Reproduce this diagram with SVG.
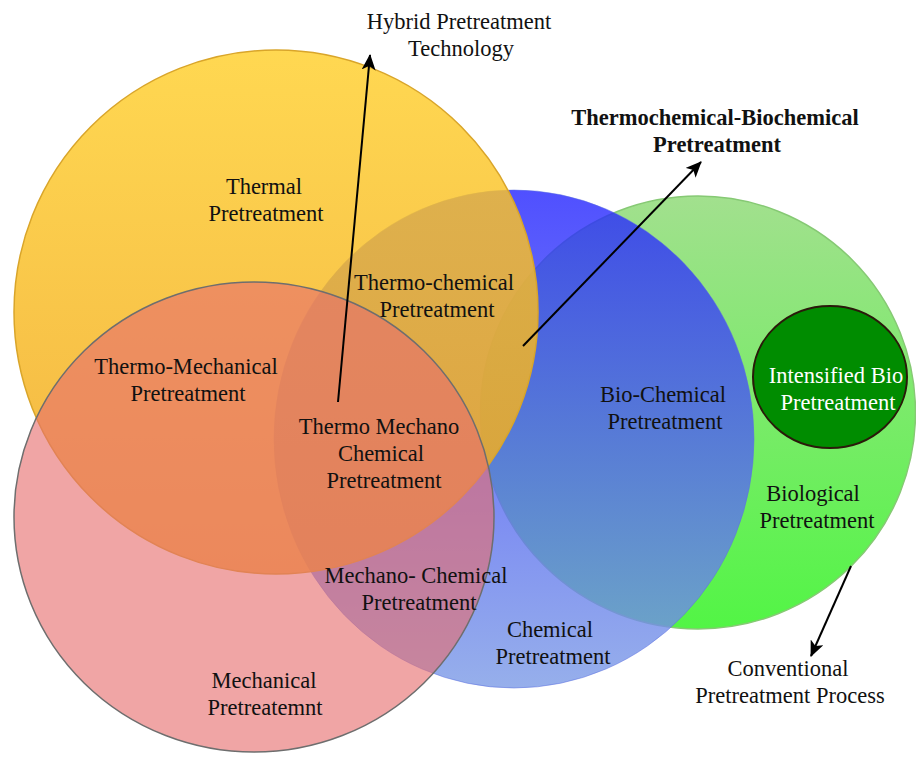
<svg xmlns="http://www.w3.org/2000/svg" width="916" height="765" viewBox="0 0 916 765">
<defs>
<linearGradient id="gGreen" x1="0" y1="0" x2="0" y2="1">
<stop offset="0" stop-color="#a2e08e"/>
<stop offset="1" stop-color="#52f545"/>
</linearGradient>
<linearGradient id="gBlue" x1="0" y1="0" x2="0" y2="1">
<stop offset="0" stop-color="#2424ff"/>
<stop offset="1" stop-color="#7c9be6"/>
</linearGradient>
<linearGradient id="gYellow" x1="0" y1="0" x2="0" y2="1">
<stop offset="0" stop-color="#ffd02e"/>
<stop offset="1" stop-color="#f0a41a"/>
</linearGradient>
<marker id="ah" viewBox="0 0 16 14" refX="15" refY="7" markerWidth="16" markerHeight="14" markerUnits="userSpaceOnUse" orient="auto">
<path d="M0,0 L16,7 L0,14 L4,7 z" fill="#000"/>
</marker>
<style>
.t{font-family:"Liberation Serif","Times New Roman",serif;font-size:22.5px;fill:#111;text-anchor:middle}
.b{font-weight:bold;font-size:22.5px}
.w{fill:#fff}
.arr{stroke:#000;stroke-width:2;fill:none}
</style>
</defs>
<rect width="916" height="765" fill="#fff"/>
<g id="biological">
<ellipse cx="698" cy="412.5" rx="217.5" ry="216.5" fill="url(#gGreen)" stroke="#86c974" stroke-width="1.5"/>
</g>
<g id="chemical">
<ellipse cx="514" cy="439" rx="240" ry="249" fill="url(#gBlue)" fill-opacity="0.8" stroke="#5a6ee0" stroke-opacity="0.5" stroke-width="1"/>
</g>
<g id="thermal">
<circle cx="276" cy="312" r="262" fill="url(#gYellow)" fill-opacity="0.83" stroke="#d9a52a" stroke-width="1.5"/>
</g>
<g id="mechanical">
<ellipse cx="254" cy="517" rx="240" ry="235" fill="#e66e6e" fill-opacity="0.62" stroke="#6e6e6e" stroke-width="1.5"/>
</g>
<g id="intensified">
<ellipse cx="830" cy="377" rx="77" ry="71" fill="#008c00" stroke="#2a1a0a" stroke-width="2"/>
</g>
<g id="connectors">
<line class="arr" x1="338" y1="402" x2="370" y2="55" marker-end="url(#ah)"/>
<line class="arr" x1="523" y1="346" x2="701" y2="162" marker-end="url(#ah)"/>
<line class="arr" x1="851" y1="566" x2="811" y2="656" marker-end="url(#ah)"/>
</g>
<g id="labels">
<text class="t" x="459" y="29">Hybrid Pretreatment</text>
<text class="t" x="461" y="56">Technology</text>
<text class="t b" x="715" y="125">Thermochemical-Biochemical</text>
<text class="t b" x="717" y="152">Pretreatment</text>
<text class="t" x="264" y="194">Thermal</text>
<text class="t" x="266" y="221">Pretreatment</text>
<text class="t" x="434" y="290">Thermo-chemical</text>
<text class="t" x="437" y="317">Pretreatment</text>
<text class="t" x="186" y="374">Thermo-Mechanical</text>
<text class="t" x="188" y="401">Pretreatment</text>
<text class="t" x="379" y="434">Thermo Mechano</text>
<text class="t" x="381" y="461">Chemical</text>
<text class="t" x="384" y="488">Pretreatment</text>
<text class="t" x="663" y="402">Bio-Chemical</text>
<text class="t" x="665" y="429">Pretreatment</text>
<text class="t w" x="836" y="383">Intensified Bio</text>
<text class="t w" x="838" y="410">Pretreatment</text>
<text class="t" x="813" y="501">Biological</text>
<text class="t" x="817" y="528">Pretreatment</text>
<text class="t" x="416" y="583">Mechano- Chemical</text>
<text class="t" x="419" y="610">Pretreatment</text>
<text class="t" x="550" y="637">Chemical</text>
<text class="t" x="553" y="664">Pretreatment</text>
<text class="t" x="264" y="688">Mechanical</text>
<text class="t" x="265" y="715">Pretreatemnt</text>
<text class="t" x="788" y="676">Conventional</text>
<text class="t" x="790" y="703">Pretreatment Process</text>
</g>
</svg>
